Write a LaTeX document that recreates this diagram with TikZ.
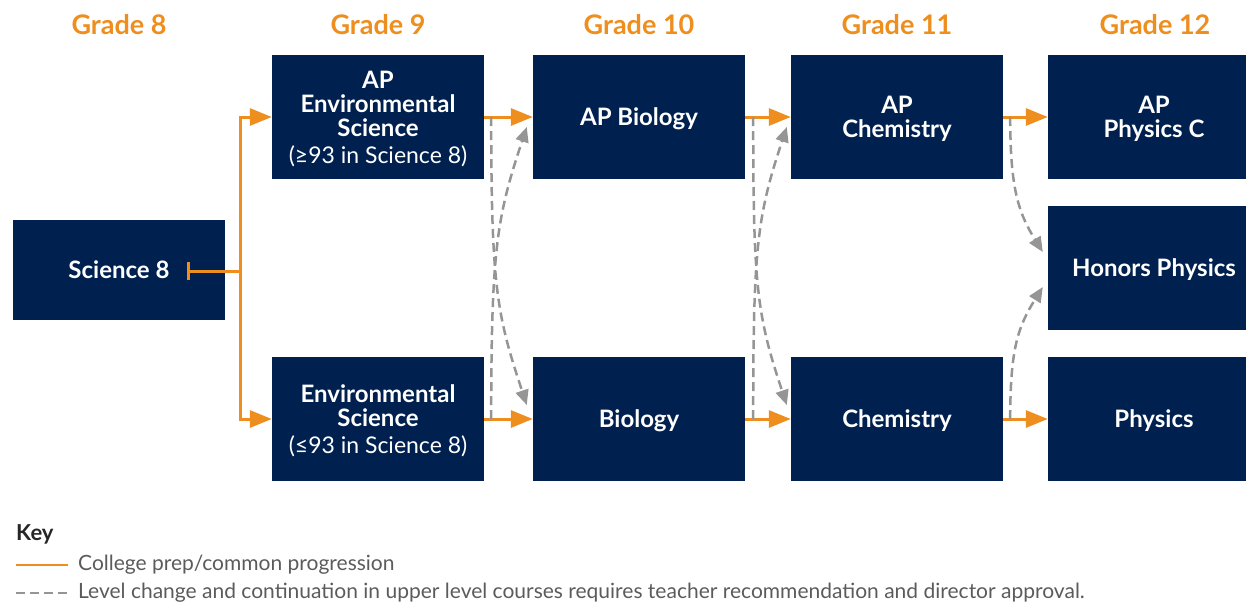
\documentclass[tikz,border=0pt]{standalone}
\usepackage{fontspec}
\setmainfont{Lato}
\usetikzlibrary{arrows.meta}
\usetikzlibrary{positioning}

\definecolor{navy}{HTML}{00214F}
\definecolor{gradeorange}{HTML}{EE8E1F}
\definecolor{dashgray}{HTML}{959595}
\definecolor{keygray}{HTML}{5B5B5B}

\tikzset{
	course/.style={fill=navy, text=white, align=center, inner sep=0pt, text depth=0pt,
		minimum width=212pt, minimum height=124pt,
		font=\bfseries\fontsize{24}{24}\selectfont},
	grade/.style={text=gradeorange, inner sep=0pt, font=\bfseries\fontsize{27}{30}\selectfont},
	prep/.style={draw=gradeorange, line width=3pt, -{Triangle[length=22pt,width=17pt]}},
	levelchange/.style={draw=dashgray, line width=2.5pt, dash pattern=on 9pt off 5pt,
		-{Triangle[length=15pt,width=13pt]}},
	keytext/.style={text=keygray, anchor=west, inner sep=0pt, font=\fontsize{21}{24}\selectfont},
}

\begin{document}
\begin{tikzpicture}[x=1pt,y=-1pt]
\useasboundingbox (0,0) rectangle (1246,603);

% grade headings
\node[grade] (g8) at (119,25) {Grade 8};
\node[grade] (g9) at (378,25) {Grade 9};
\node[grade] (g10) at (639,25) {Grade 10};
\node[grade] (g11) at (897,25) {Grade 11};
\node[grade] (g12) at (1155,25) {Grade 12};

% courses
\node[course, minimum height=100pt] (sci8) at (119,270) {Science 8};

\node[course] (apenv) at (378,117) {AP\\Environmental\\Science\\[3pt]{\mdseries\fontsize{23}{24}\selectfont (≥93 in Science 8)}};
\node[course] (env) at (378,419) {Environmental\\Science\\[3pt]{\mdseries\fontsize{23}{24}\selectfont (≤93 in Science 8)}};

\node[course] (apbio) at (639,117) {AP Biology};
\node[course] (bio) at (639,419) {Biology};

\node[course] (apchem) at (897,117) {AP\\Chemistry};
\node[course] (chem) at (897,419) {Chemistry};

% grade 12 column runs past the right edge
\node[course] (apphys) at (1154,117) {AP\\Physics C};
\node[course] (honphys) at (1154,268) {Honors Physics};
\node[course] (phys) at (1154,419) {Physics};

% common progression
\coordinate (split) at (240,271);
\draw[prep, {Bar[width=18pt]}-] ([xshift=68pt,yshift=-1pt]sci8.center) -- (split);
\draw[prep] (split) |- (apenv.west);
\draw[prep] (split) |- (env.west);

\draw[prep] (apenv.east) -- (apbio.west);
\draw[prep] (env.east) -- (bio.west);
\draw[prep] (apbio.east) -- (apchem.west);
\draw[prep] (bio.east) -- (chem.west);
\draw[prep] (apchem.east) -- (apphys.west);
\draw[prep] (chem.east) -- (phys.west);

% level changes
\draw[levelchange] ([xshift=7pt]apenv.east) .. controls +(0,170) and +(-30,-90) .. ([xshift=-6pt,yshift=14pt]bio.west);
\draw[levelchange] ([xshift=7pt]env.east) .. controls +(0,-170) and +(-30,90) .. ([xshift=-6pt,yshift=-10pt]apbio.west);
\draw[levelchange] ([xshift=8pt]apbio.east) .. controls +(0,170) and +(-30,-90) .. ([xshift=-4pt,yshift=14pt]chem.west);
\draw[levelchange] ([xshift=8pt]bio.east) .. controls +(0,-170) and +(-30,90) .. ([xshift=-4pt,yshift=-10pt]apchem.west);
\draw[levelchange] ([xshift=7pt]apchem.east) .. controls +(0,70) and +(-25,-40) .. ([xshift=-5pt,yshift=16pt]honphys.west);
\draw[levelchange] ([xshift=7pt]chem.east) .. controls +(0,-70) and +(-25,40) .. ([xshift=-5pt,yshift=-19pt]honphys.west);

% key
\node[anchor=west, inner sep=0pt, text=black!85, font=\bfseries\fontsize{22}{24}\selectfont] (key) at (16,534) {Key};
\node[keytext] (preptxt) at (78,565) {College prep/common progression};
\node[keytext] (changetxt) at (78,593) {Level change and continuation in upper level courses requires teacher recommendation and director approval.};
\coordinate (prepstart) at (16,565);
\coordinate (changestart) at (16,593);
\draw[draw=gradeorange, line width=2pt] (prepstart) -- ([xshift=-10pt]preptxt.west);
\draw[draw=dashgray, line width=2pt, dash pattern=on 9pt off 5pt] (changestart) -- ([xshift=-10pt]changetxt.west);
\end{tikzpicture}
\end{document}
